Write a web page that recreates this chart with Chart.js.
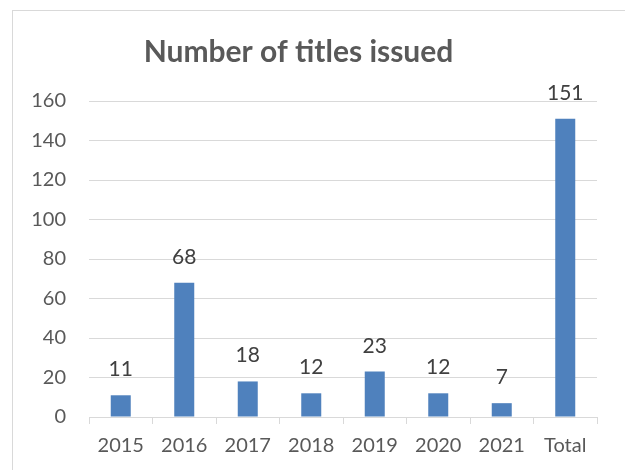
<!DOCTYPE html>
<html>
<head>
<meta charset="utf-8">
<script src="https://cdn.jsdelivr.net/npm/chart.js@4.4.1/dist/chart.umd.min.js"></script>
<style>
  html, body { margin: 0; padding: 0; background: #fff; }
  #wrap { width: 625px; height: 470px; position: relative; }
</style>
</head>
<body>
<div id="wrap"><canvas id="titlesChart"></canvas></div>
<script>
const categories = ['2015', '2016', '2017', '2018', '2019', '2020', '2021', 'Total'];
const titlesIssued = [11, 68, 18, 12, 23, 12, 7, 151];
const yTicks = [0, 20, 40, 60, 80, 100, 120, 140, 160];

const FONT = 'Lato, "Open Sans", sans-serif';

// light grey frame around the chart, like the office export
const framePlugin = {
    id: 'frame',
    beforeDraw(chart) {
        const ctx = chart.ctx;
        ctx.save();
        ctx.fillStyle = '#fff';
        ctx.fillRect(0, 0, chart.width, chart.height);
        ctx.strokeStyle = '#d9d9d9';
        ctx.lineWidth = 1;
        ctx.strokeRect(12.5, 10.5, chart.width + 20, chart.height + 20);
        ctx.restore();
    }
};

// value labels above each bar
const valueLabels = {
    id: 'valueLabels',
    afterDatasetsDraw(chart) {
        const ctx = chart.ctx;
        const meta = chart.getDatasetMeta(0);
        ctx.save();
        ctx.font = '21px ' + FONT;
        ctx.fillStyle = '#404040';
        ctx.textAlign = 'center';
        ctx.textBaseline = 'alphabetic';
        meta.data.forEach((bar, i) => {
            ctx.fillText(String(titlesIssued[i]), bar.x, bar.y - 19);
        });
        ctx.restore();
    }
};

const ctx = document.getElementById('titlesChart').getContext('2d');
const chart = new Chart(ctx, {
    type: 'bar',
    data: {
        labels: categories,
        datasets: [{
            label: 'Number of titles issued',
            data: titlesIssued,
            backgroundColor: '#4f81bd',
            borderWidth: 0,
            barPercentage: 0.315,
            categoryPercentage: 1
        }]
    },
    options: {
        responsive: true,
        maintainAspectRatio: false,
        animation: false,
        layout: {
            padding: { top: 10, right: 28, bottom: 2, left: 0 }
        },
        plugins: {
            legend: { display: false },
            tooltip: { enabled: false },
            title: {
                display: true,
                text: 'Number of titles issued',
                color: '#595959',
                font: { family: FONT, size: 30, weight: 'bold' },
                padding: { top: 24, bottom: 31 }
            }
        },
        scales: {
            x: {
                grid: {
                    drawOnChartArea: false,
                    drawTicks: true,
                    tickLength: 7,
                    color: '#d9d9d9',
                    offset: true
                },
                border: { color: '#d9d9d9', width: 1 },
                ticks: {
                    color: '#595959',
                    font: { family: FONT, size: 20 },
                    padding: 10,
                    maxRotation: 0
                }
            },
            y: {
                min: 0,
                max: 160,
                afterFit(scale) { scale.width = 89; },
                afterBuildTicks(scale) { scale.ticks = yTicks.map(v => ({ value: v })); },
                grid: { color: '#d9d9d9', drawTicks: false },
                border: { display: false },
                ticks: {
                    color: '#595959',
                    font: { family: FONT, size: 20 },
                    padding: 23
                }
            }
        }
    },
    plugins: [framePlugin, valueLabels]
});
</script>
</body>
</html>
